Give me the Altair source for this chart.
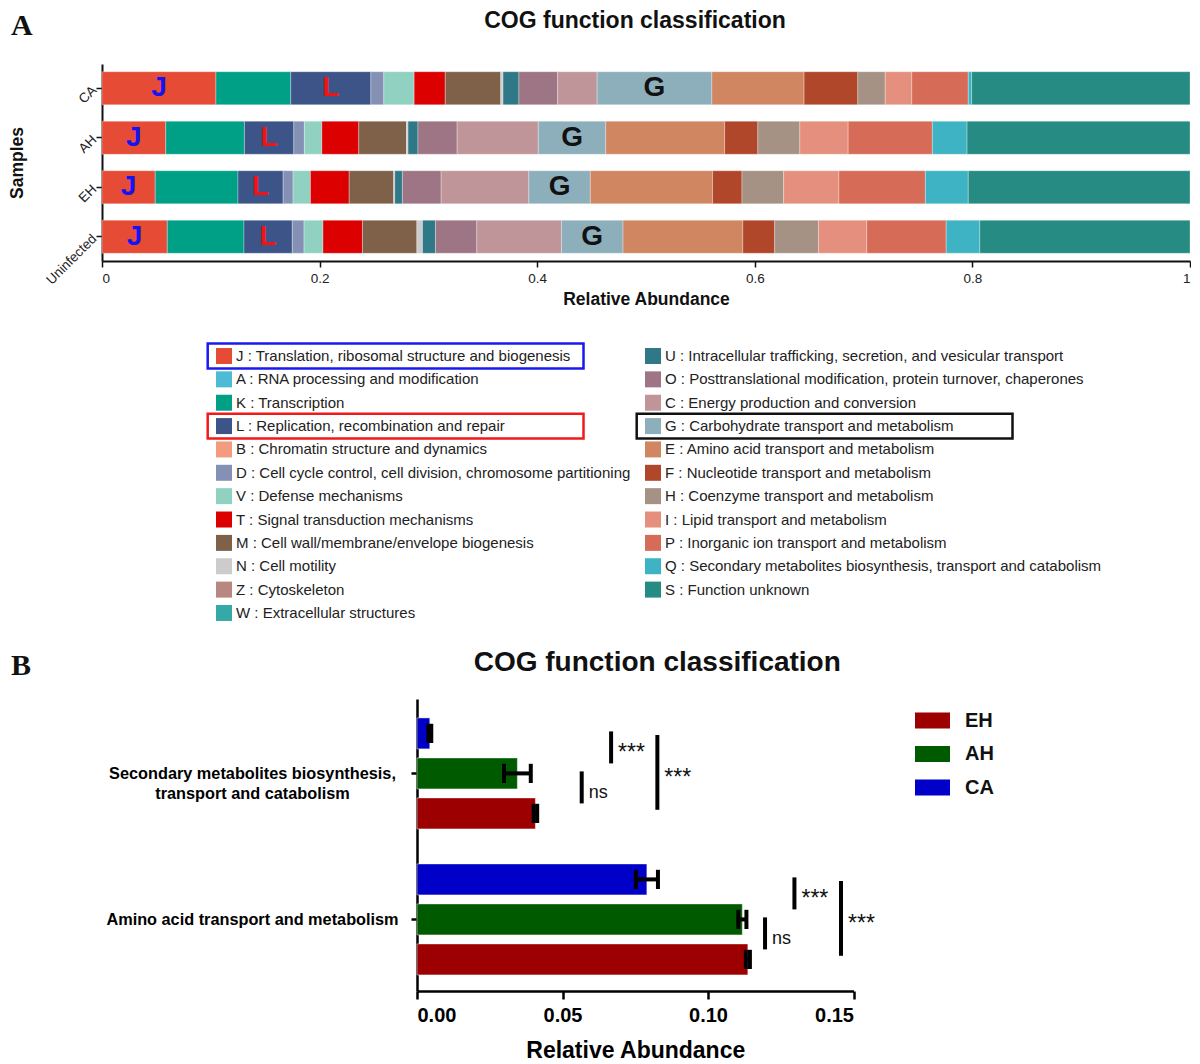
import json
import altair as alt
import pandas as pd

FONT = "Liberation Sans"
SERIF = "Liberation Serif"

# ------------------------------------------------------------------ Panel A data
codes = ["J", "A", "K", "L", "B", "D", "V", "T", "M", "N", "Z", "W",
         "U", "O", "C", "G", "E", "F", "H", "I", "P", "Q", "S"]
descriptions = [
    "Translation, ribosomal structure and biogenesis",
    "RNA processing and modification",
    "Transcription",
    "Replication, recombination and repair",
    "Chromatin structure and dynamics",
    "Cell cycle control, cell division, chromosome partitioning",
    "Defense mechanisms",
    "Signal transduction mechanisms",
    "Cell wall/membrane/envelope biogenesis",
    "Cell motility",
    "Cytoskeleton",
    "Extracellular structures",
    "Intracellular trafficking, secretion, and vesicular transport",
    "Posttranslational modification, protein turnover, chaperones",
    "Energy production and conversion",
    "Carbohydrate transport and metabolism",
    "Amino acid transport and metabolism",
    "Nucleotide transport and metabolism",
    "Coenzyme transport and metabolism",
    "Lipid transport and metabolism",
    "Inorganic ion transport and metabolism",
    "Secondary metabolites biosynthesis, transport and catabolism",
    "Function unknown",
]
colors = ["#E64B35", "#4DBBD5", "#00A087", "#3C5488", "#F39B7F", "#8491B4",
          "#91D1C2", "#DC0000", "#7E6148", "#CCCCCC", "#B8877F", "#35A8A8",
          "#2F7887", "#9E7584", "#C09599", "#8DAFBC", "#D08660", "#B0472A",
          "#A69285", "#E5907E", "#D66B58", "#3EB3C3", "#268B82"]

samples = ["CA", "AH", "EH", "Uninfected"]
#            J      A    K      L      B    D      V      T      M      N      Z    W
ca_vals = [0.1047, 0, 0.0688, 0.0736, 0, 0.0119, 0.0279, 0.0286, 0.0510, 0.0021, 0, 0,
           # U     O       C       G       E       F       H       I       P       Q       S
           0.0146, 0.0356, 0.0363, 0.1054, 0.0848, 0.0494, 0.0252, 0.0244, 0.0519, 0.0031, 0.2007]
ah_vals = [0.0586, 0, 0.0723, 0.0454, 0, 0.0097, 0.0161, 0.0339, 0.0439, 0.0014, 0, 0,
           0.0091, 0.0360, 0.0746, 0.0620, 0.1093, 0.0305, 0.0386, 0.0444, 0.0774, 0.0319, 0.2049]
eh_vals = [0.0489, 0, 0.0761, 0.0415, 0, 0.0091, 0.0160, 0.0356, 0.0409, 0.0010, 0, 0,
           0.0070, 0.0356, 0.0806, 0.0565, 0.1124, 0.0270, 0.0383, 0.0508, 0.0795, 0.0394, 0.2038]
un_vals = [0.0600, 0, 0.0705, 0.0444, 0, 0.0108, 0.0174, 0.0363, 0.0500, 0.0052, 0, 0,
           0.0119, 0.0380, 0.0778, 0.0566, 0.1101, 0.0293, 0.0402, 0.0444, 0.0730, 0.0309, 0.1932]

marked_letters = ["J", "L", "G"]
marked_colors = ["#1414F0", "#F01414", "#111111"]

# ------------------------------------------------------------------ Panel B data
b_categories = ["Secondary metabolites biosynthesis, transport and catabolism",
                "Amino acid transport and metabolism"]
b_label_lines = [["Secondary metabolites biosynthesis,", "transport and catabolism"],
                 ["Amino acid transport and metabolism"]]
b_groups = ["CA", "AH", "EH"]
ca_mean = [0.0044, 0.0790]
ah_mean = [0.0345, 0.1118]
eh_mean = [0.0407, 0.1137]
ca_err = [0.0005, 0.0038]
ah_err = [0.0046, 0.0014]
eh_err = [0.0006, 0.0007]
b_colors = ["#9C0000", "#005A00", "#0000C8"]  # EH, AH, CA

sig_category = [0, 0, 0, 1, 1, 1]
sig_from = ["CA", "AH", "CA", "CA", "AH", "CA"]
sig_to = ["AH", "EH", "EH", "AH", "EH", "EH"]
sig_x = [0.0667, 0.0566, 0.0826, 0.1297, 0.1196, 0.1457]
sig_label = ["***", "ns", "***", "***", "ns", "***"]

TITLE = "COG function classification"

# ------------------------------------------------------------------ Panel A
seg_rows = []
for s, vals in zip(samples, [ca_vals, ah_vals, eh_vals, un_vals]):
    cum = 0.0
    for c, v in zip(codes, vals):
        if v > 0:
            seg_rows.append(dict(sample=s, code=c, start=cum, end=cum + v, mid=cum + v / 2))
        cum += v
seg_df = pd.DataFrame(seg_rows)
let_df = seg_df[seg_df["code"].isin(marked_letters)].copy()
let_df["lcolor"] = let_df["code"].map(dict(zip(marked_letters, marked_colors)))

A_W, A_H = 1088, 197
axA_common = dict(domainColor="#111", domainWidth=2, tickColor="#111", tickWidth=1.5,
                  tickSize=6, labelFont=FONT, labelFontSize=13.5, labelColor="#222",
                  titleFont=FONT, titleFontSize=17.5, titleFontWeight="bold",
                  titleColor="#111", grid=False)
xA_scale = alt.Scale(domain=[0, 1], nice=False)
xA_axis = alt.Axis(title="Relative Abundance", values=[0, 0.2, 0.4, 0.6, 0.8, 1],
                   format="~g", labelPadding=4, titlePadding=6, **axA_common)
yA = alt.Y("sample:N", sort=samples,
           scale=alt.Scale(domain=samples, paddingInner=0.333, paddingOuter=0.156),
           axis=alt.Axis(title="Samples", labelAngle=-45, labelAlign="right",
                         labelBaseline="middle", labelPadding=2, titleAngle=-90,
                         titleX=-76, titleY=A_H / 2, titleAlign="center",
                         titleBaseline="bottom", **axA_common))

bars_a = alt.Chart(seg_df).mark_bar(stroke="white", strokeWidth=0.6, strokeOpacity=0.5).encode(
    x=alt.X("start:Q", scale=xA_scale, axis=xA_axis),
    x2="end:Q",
    y=yA,
    color=alt.Color("code:N", scale=alt.Scale(domain=codes, range=colors), legend=None),
)
letters_a = alt.Chart(let_df).mark_text(font=FONT, fontSize=28, fontWeight="bold",
                                        baseline="middle").encode(
    x=alt.X("mid:Q", scale=xA_scale, axis=xA_axis),
    y=yA,
    text="code:N",
    color=alt.Color("lcolor:N", scale=None),
)
tagA = alt.Chart(pd.DataFrame({"t": ["A"]})).mark_text(
    font=SERIF, fontSize=30, fontWeight="bold", align="left", baseline="alphabetic",
    color="#111").encode(x=alt.value(-91), y=alt.value(-29), text="t:N")
titleA = alt.Chart(pd.DataFrame({"t": [TITLE]})).mark_text(
    font=FONT, fontSize=23, fontWeight="bold", align="center", baseline="alphabetic",
    color="#111").encode(x=alt.value(533), y=alt.value(-36), text="t:N")

chartA = alt.layer(bars_a, letters_a, tagA, titleA).properties(width=A_W, height=A_H)

# ------------------------------------------------------------------ legend block
N_LEFT = 12
leg_df = pd.DataFrame({
    "code": codes,
    "label": [f"{c} : {d}" for c, d in zip(codes, descriptions)],
    "color": colors,
    "col": [0 if i < N_LEFT else 1 for i in range(len(codes))],
    "row": [i if i < N_LEFT else i - N_LEFT for i in range(len(codes))],
})
box_df = leg_df[leg_df["code"].isin(marked_letters)].copy()
box_df["bcolor"] = box_df["code"].map({"J": "#1A1AF0", "L": "#F01A1A", "G": "#111111"})
box_df["x1"] = box_df["col"] - 0.038
box_df["x2"] = box_df["col"] + 0.838
box_df["y1"] = box_df["row"] - 0.53
box_df["y2"] = box_df["row"] + 0.53

L_W, L_H = 1088, 341
PX_COL = 429.0       # pixels between the two legend columns
ROW_PX = 23.36       # pixels per legend row
first_sw_px = 122.0  # swatch centre of column 0 from the block's left edge
row0_px = 48.0       # row 0 centre from the block's top edge
x_dom = [-first_sw_px / PX_COL, (L_W - first_sw_px) / PX_COL]
y_dom = [-row0_px / ROW_PX, (L_H - row0_px) / ROW_PX]
lx = alt.Scale(domain=x_dom, nice=False, zero=False)
ly = alt.Scale(domain=y_dom, nice=False, zero=False, reverse=True)

sw = alt.Chart(leg_df).mark_square(size=256, opacity=1).encode(
    x=alt.X("col:Q", scale=lx, axis=None),
    y=alt.Y("row:Q", scale=ly, axis=None),
    color=alt.Color("color:N", scale=None),
)
tx = alt.Chart(leg_df).mark_text(align="left", baseline="middle", dx=12, font=FONT,
                                 fontSize=15, color="#222").encode(
    x=alt.X("col:Q", scale=lx, axis=None),
    y=alt.Y("row:Q", scale=ly, axis=None),
    text="label:N",
)
boxes = alt.Chart(box_df).mark_rect(fillOpacity=0, strokeWidth=2.5).encode(
    x=alt.X("x1:Q", scale=lx, axis=None), x2="x2:Q",
    y=alt.Y("y1:Q", scale=ly, axis=None), y2="y2:Q",
    stroke=alt.Stroke("bcolor:N", scale=None),
)
legend_block = alt.layer(sw, tx, boxes).properties(width=L_W, height=L_H)

# ------------------------------------------------------------------ Panel B
CAT_STEP, FIRST, BAR_HALF, CAP_HALF = 3.65, 0.86, 0.3875, 0.24
B_W, B_H = 436.5, 292


def pos(ci, g):
    return FIRST + ci * CAT_STEP + b_groups.index(g)


means = {"CA": ca_mean, "AH": ah_mean, "EH": eh_mean}
errs = {"CA": ca_err, "AH": ah_err, "EH": eh_err}
bar_rows, err_rows, cap_rows = [], [], []
for ci in range(len(b_categories)):
    for g in b_groups:
        p, m, e = pos(ci, g), means[g][ci], errs[g][ci]
        bar_rows.append(dict(group=g, xs=0.0, xe=m, ys=p - BAR_HALF, ye=p + BAR_HALF))
        err_rows.append(dict(xs=m - e, xe=m + e, ys=p))
        cap_rows.append(dict(xs=m - e, ys=p - CAP_HALF, ye=p + CAP_HALF))
        cap_rows.append(dict(xs=m + e, ys=p - CAP_HALF, ye=p + CAP_HALF))
bar_df, err_df, cap_df = map(pd.DataFrame, (bar_rows, err_rows, cap_rows))

sig_rows = []
for ci, f, t, x, lab in zip(sig_category, sig_from, sig_to, sig_x, sig_label):
    big = (b_groups.index(t) - b_groups.index(f)) == 2
    y1 = pos(ci, f) + (0.04 if big else -0.05)
    y2 = pos(ci, t) - (0.09 if big else 0.25)
    sig_rows.append(dict(xs=x, ys=y1, ye=y2, ym=(y1 + y2) / 2 + 0.13, label=lab,
                         fs=23 if lab == "***" else 18))
sig_df = pd.DataFrame(sig_rows)

tick_pos = [pos(ci, "AH") for ci in range(len(b_categories))]
mid_split = (tick_pos[0] + tick_pos[1]) / 2
label_expr = (f"datum.value < {mid_split} ? {json.dumps(b_label_lines[0])} : "
              f"{json.dumps(b_label_lines[1])}")

axB_common = dict(domainColor="#000", domainWidth=2.5, tickColor="#000", tickWidth=2.5,
                  grid=False, labelColor="#000", labelFont=FONT, titleFont=FONT,
                  titleColor="#000")
xB_scale = alt.Scale(domain=[0, 0.15], nice=False)
xB_axis = alt.Axis(title="Relative Abundance", values=[0, 0.05, 0.1, 0.15], format=".2f",
                   tickSize=8, labelFontSize=20, labelFontWeight="bold", labelPadding=6,
                   titleFontSize=23, titleFontWeight="bold", titlePadding=14, **axB_common)
yB_scale = alt.Scale(domain=[0, 7.3], reverse=True, nice=False, zero=False)
yB_axis = alt.Axis(title=None, values=tick_pos, labelExpr=label_expr, tickSize=6,
                   labelAlign="center", labelBaseline="middle", labelPadding=159,
                   labelFontSize=16.3, labelFontWeight="bold", labelLineHeight=20,
                   labelLimit=600, labelOverlap=False, labelBound=False, **axB_common)


def XB(f):
    return alt.X(f"{f}:Q", scale=xB_scale, axis=xB_axis)


def YB(f):
    return alt.Y(f"{f}:Q", scale=yB_scale, axis=yB_axis)


bars_b = alt.Chart(bar_df).mark_bar(stroke="white", strokeWidth=0.8, strokeOpacity=0.6).encode(
    x=XB("xs"), x2="xe:Q", y=YB("ys"), y2="ye:Q",
    color=alt.Color("group:N", scale=alt.Scale(domain=["EH", "AH", "CA"], range=b_colors),
                    legend=alt.Legend(title=None, orient="right", offset=36, padding=4,
                                      symbolType="M-1,-0.457H1V0.457H-1Z", symbolSize=1225,
                                      symbolStrokeWidth=0, symbolOpacity=1,
                                      labelFont=FONT, labelFontSize=20,
                                      labelFontWeight="bold", labelColor="#111",
                                      labelOffset=15, rowPadding=5.5)),
)
err_b = alt.Chart(err_df).mark_rule(color="black", strokeWidth=4).encode(
    x=XB("xs"), x2="xe:Q", y=YB("ys"))
cap_b = alt.Chart(cap_df).mark_rule(color="black", strokeWidth=4).encode(
    x=XB("xs"), y=YB("ys"), y2="ye:Q")
sig_b = alt.Chart(sig_df).mark_rule(color="black", strokeWidth=4).encode(
    x=XB("xs"), y=YB("ys"), y2="ye:Q")
sigt_b = alt.Chart(sig_df).mark_text(align="left", baseline="middle", dx=7, font=FONT,
                                     color="#111").encode(
    x=XB("xs"), y=YB("ym"), text="label:N", size=alt.Size("fs:Q", scale=None))

chartB = alt.layer(bars_b, err_b, cap_b, sig_b, sigt_b).properties(
    width=B_W, height=B_H,
    title=alt.TitleParams(TITLE, font=FONT, fontSize=28,
                          fontWeight="bold", color="#111", frame="group", anchor="middle",
                          dx=22, offset=22),
)

# narrow spacer holding the "B" tag; it shifts panel B right of the shared left origin
spacerB = alt.Chart(pd.DataFrame({"t": ["B"]})).mark_text(
    font=SERIF, fontSize=30, fontWeight="bold", align="left", baseline="alphabetic",
    color="#111").encode(x=alt.value(-91), y=alt.value(-24), text="t:N").properties(
    width=3, height=B_H)
rowB = alt.hconcat(spacerB, chartB, spacing=0)

chart = alt.vconcat(chartA, legend_block, rowB, spacing=0).resolve_scale(
    color="independent").properties(
    padding={"left": 0, "top": 2, "right": 0, "bottom": 0},
).configure_view(stroke=None)

chart.save("out.html", embed_options={"renderer": "svg", "actions": False})
